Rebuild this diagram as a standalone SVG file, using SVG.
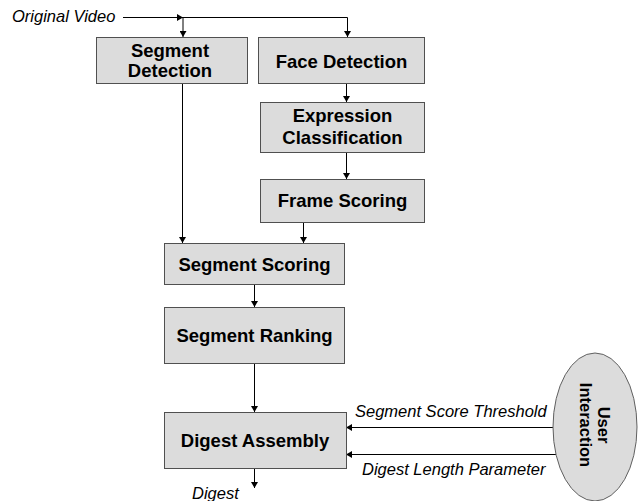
<svg xmlns="http://www.w3.org/2000/svg" width="641" height="501" viewBox="0 0 641 501">
<defs>
<marker id="ah" markerUnits="userSpaceOnUse" markerWidth="7" markerHeight="7" refX="6" refY="3.5" orient="auto">
<path d="M0,0 L6,3.5 L0,7 z" fill="#000"/>
</marker>
<style>
.box{fill:#dcdcdc;stroke:#505050;stroke-width:1}
.bt{font-family:"Liberation Sans",Arial,sans-serif;font-weight:bold;font-size:18.5px;fill:#000;text-anchor:middle}
.it{font-family:"Liberation Sans",Arial,sans-serif;font-style:italic;font-size:16.5px;fill:#000}
.c{fill:none;stroke:#000;stroke-width:1}
.ca{fill:none;stroke:#000;stroke-width:1;marker-end:url(#ah)}
</style>
</defs>
<rect width="641" height="501" fill="#fff"/>
<text class="it" x="12" y="22">Original Video</text>
<text class="it" x="355" y="417">Segment Score Threshold</text>
<text class="it" x="362" y="475">Digest Length Parameter</text>
<text class="it" x="192" y="499">Digest</text>
<g id="connectors">
<path class="ca" d="M123,17.5 H183"/>
<path class="c" d="M183,17.5 H347.5"/>
<path class="ca" d="M347.5,17.5 V37"/>
<path class="ca" d="M183,17.5 V37"/>
<path class="ca" d="M182.5,83 V243"/>
<path class="ca" d="M346.5,83 V102"/>
<path class="ca" d="M346.5,152 V179"/>
<path class="ca" d="M303.5,222 V243"/>
<path class="ca" d="M254.5,284 V307"/>
<path class="ca" d="M254.5,363 V412"/>
<path class="ca" d="M254.5,468 V488"/>
<path class="ca" d="M553,427.5 H346"/>
<path class="ca" d="M556,454.5 H346"/>
</g>
<g id="segment-detection">
<rect class="box" x="96.5" y="37.5" width="151" height="46"/>
<text class="bt" x="170" y="56.5">Segment</text>
<text class="bt" x="170" y="77">Detection</text>
</g>
<g id="face-detection">
<rect class="box" x="258.5" y="37.5" width="166" height="46"/>
<text class="bt" x="341.5" y="67.5">Face Detection</text>
</g>
<g id="expression-classification">
<rect class="box" x="260.5" y="102.5" width="164" height="50"/>
<text class="bt" x="342.5" y="122">Expression</text>
<text class="bt" x="342.5" y="144">Classification</text>
</g>
<g id="frame-scoring">
<rect class="box" x="260.5" y="179.5" width="164" height="43"/>
<text class="bt" x="342.5" y="207">Frame Scoring</text>
</g>
<g id="segment-scoring">
<rect class="box" x="164.5" y="243.5" width="180" height="41"/>
<text class="bt" x="254.5" y="271">Segment Scoring</text>
</g>
<g id="segment-ranking">
<rect class="box" x="164.5" y="307.5" width="180" height="56"/>
<text class="bt" x="254.5" y="341.5">Segment Ranking</text>
</g>
<g id="digest-assembly">
<rect class="box" x="164.5" y="412.5" width="182" height="56"/>
<text class="bt" x="255" y="447">Digest Assembly</text>
</g>
<g id="user-interaction">
<ellipse cx="595" cy="427" rx="42" ry="74" fill="#dcdcdc" stroke="#606060" stroke-width="1"/>
<g transform="translate(595,425) rotate(90)">
<text class="bt" style="font-size:16.5px" x="0" y="-3">User</text>
<text class="bt" style="font-size:16.5px" x="0" y="15">Interaction</text>
</g>
</g>
</svg>
